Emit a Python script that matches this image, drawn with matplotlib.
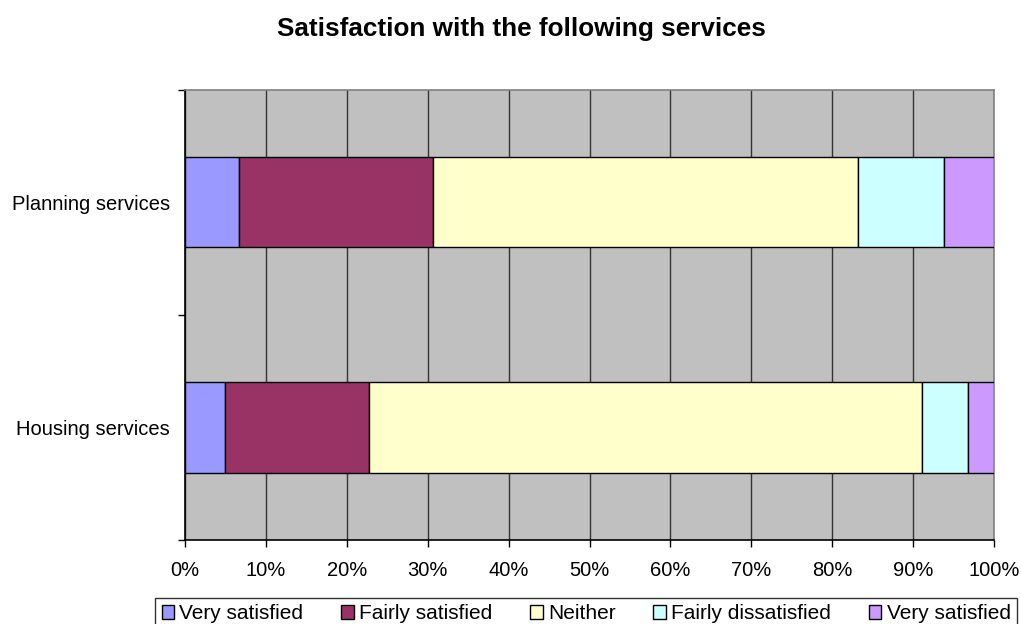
#!/usr/bin/env python3
import matplotlib
matplotlib.use('Agg')
import matplotlib.pyplot as plt
from matplotlib.patches import Patch
from matplotlib.ticker import FixedLocator, FuncFormatter

TITLE = 'Satisfaction with the following services'
CATEGORIES = ['Housing services', 'Planning services']
SERIES = ['Very satisfied', 'Fairly satisfied', 'Neither', 'Fairly dissatisfied', 'Very satisfied']
COLORS = ['#9999FF', '#993366', '#FFFFCC', '#CCFFFF', '#CC99FF']
# percentages, one list per series, ordered as CATEGORIES
very_sat = [4.9, 6.7]
fairly_sat = [17.9, 23.9]
neither = [68.3, 52.6]
fairly_dis = [5.7, 10.6]
very_dis = [3.2, 6.2]
X_TICKS = [0, 10, 20, 30, 40, 50, 60, 70, 80, 90, 100]


def main():
    plt.rcParams['font.family'] = ['Liberation Sans', 'DejaVu Sans']
    fig = plt.figure(figsize=(10.21, 6.24), dpi=100)
    ax = fig.add_axes([0.1812, 0.1346, 0.7924, 0.7212])
    ax.set_facecolor('#C0C0C0')

    data = [very_sat, fairly_sat, neither, fairly_dis, very_dis]
    ypos = [i + 0.5 for i in range(len(CATEGORIES))]
    left = [0.0] * len(CATEGORIES)
    for vals, col in zip(data, COLORS):
        ax.barh(ypos, vals, left=left, height=0.4, color=col,
                edgecolor='black', linewidth=1.0, zorder=3)
        left = [l + v for l, v in zip(left, vals)]

    ax.set_xlim(0, 100)
    ax.set_ylim(0, len(CATEGORIES))
    ax.set_xticks(X_TICKS)
    ax.xaxis.set_major_formatter(FuncFormatter(lambda v, p: '%d%%' % v))
    ax.grid(axis='x', color='#333333', linewidth=1.0, zorder=1)

    ax.yaxis.set_major_locator(FixedLocator(range(len(CATEGORIES) + 1)))
    ax.yaxis.set_major_formatter(FuncFormatter(lambda v, p: ''))
    ax.yaxis.set_minor_locator(FixedLocator(ypos))
    ax.set_yticklabels(CATEGORIES, minor=True)
    ax.tick_params(axis='y', which='minor', length=0, pad=11, labelsize=14.5)
    ax.tick_params(axis='y', which='major', length=5, width=1, color='black')
    ax.tick_params(axis='x', length=5, width=1, pad=10, labelsize=14.5)

    ax.spines['left'].set_color('black')
    ax.spines['bottom'].set_color('black')
    ax.spines['top'].set_color('#808080')
    ax.spines['right'].set_color('#808080')
    for s in ax.spines.values():
        s.set_linewidth(1.2)

    fig.text(0.5107, 1 - 29 / 624, TITLE, ha='center', va='center',
             fontsize=18.8, fontweight='bold')

    handles = [Patch(facecolor=c, edgecolor='black', linewidth=1.0) for c in COLORS]
    leg = fig.legend(handles, SERIES, loc='upper center', ncol=5,
                     bbox_to_anchor=(0.574, 1 - 598 / 624), fontsize=15,
                     frameon=True, fancybox=False, edgecolor='black',
                     handlelength=0.6, handleheight=0.6, handletextpad=0.25,
                     columnspacing=1.82, borderpad=0.3, borderaxespad=0)
    leg.get_frame().set_linewidth(1.0)

    plt.savefig('out.png', dpi=100)


if __name__ == "__main__":
    main()
